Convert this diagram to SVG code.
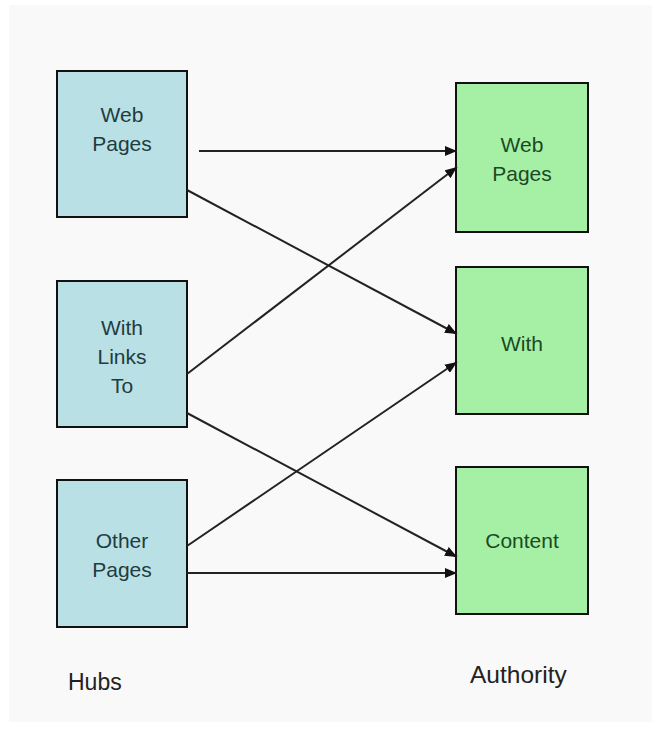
<svg xmlns="http://www.w3.org/2000/svg" width="662" height="730" viewBox="0 0 662 730">
  <style>
    .hub { fill: #b9e0e5; stroke: #111; stroke-width: 2; }
    .auth { fill: #a6f0a6; stroke: #111; stroke-width: 2; }
    .hub-text { font-family: "Liberation Sans", Arial, sans-serif; font-size: 21px; fill: #1f3c40; text-anchor: middle; }
    .auth-text { font-family: "Liberation Sans", Arial, sans-serif; font-size: 21px; fill: #1b4a24; text-anchor: middle; }
    .caption { font-family: "Liberation Sans", Arial, sans-serif; font-size: 23px; fill: #222; }
    #caption-authority { font-size: 24.5px; }
    .link { stroke: #222; stroke-width: 2; fill: none; marker-end: url(#arrow); }
  </style>
  <defs>
    <marker id="arrow" markerUnits="userSpaceOnUse" markerWidth="12" markerHeight="10" refX="12" refY="5" orient="auto">
      <path d="M0,0 L12,5 L0,10 Z" fill="#111"/>
    </marker>
  </defs>

  <!-- page background -->
  <rect x="0" y="0" width="662" height="730" fill="#ffffff"/>
  <rect x="9" y="5" width="643" height="717" fill="#f9f9f9"/>

  <!-- hubs column -->
  <g id="hub-web-pages">
    <rect class="hub" x="57" y="71" width="130" height="146"/>
    <text class="hub-text" x="122" y="122">Web</text>
    <text class="hub-text" x="122" y="151">Pages</text>
  </g>
  <g id="hub-with-links-to">
    <rect class="hub" x="57" y="281" width="130" height="146"/>
    <text class="hub-text" x="122" y="335">With</text>
    <text class="hub-text" x="122" y="364">Links</text>
    <text class="hub-text" x="122" y="393">To</text>
  </g>
  <g id="hub-other-pages">
    <rect class="hub" x="57" y="480" width="130" height="147"/>
    <text class="hub-text" x="122" y="548">Other</text>
    <text class="hub-text" x="122" y="577">Pages</text>
  </g>

  <!-- authority column -->
  <g id="auth-web-pages">
    <rect class="auth" x="456" y="83" width="132" height="149"/>
    <text class="auth-text" x="522" y="152">Web</text>
    <text class="auth-text" x="522" y="181">Pages</text>
  </g>
  <g id="auth-with">
    <rect class="auth" x="456" y="267" width="132" height="147"/>
    <text class="auth-text" x="522" y="351">With</text>
  </g>
  <g id="auth-content">
    <rect class="auth" x="456" y="467" width="132" height="147"/>
    <text class="auth-text" x="522" y="548">Content</text>
  </g>

  <!-- hub to authority links -->
  <g id="links">
    <line class="link" x1="199" y1="151" x2="457" y2="151"/>
    <line class="link" x1="187" y1="190" x2="457" y2="334"/>
    <line class="link" x1="187" y1="374" x2="457" y2="167"/>
    <line class="link" x1="187" y1="413" x2="457" y2="557"/>
    <line class="link" x1="187" y1="546" x2="457" y2="362"/>
    <line class="link" x1="187" y1="573" x2="457" y2="573"/>
  </g>

  <!-- column captions -->
  <text id="caption-hubs" class="caption" x="68" y="690">Hubs</text>
  <text id="caption-authority" class="caption" x="470" y="683">Authority</text>
</svg>
